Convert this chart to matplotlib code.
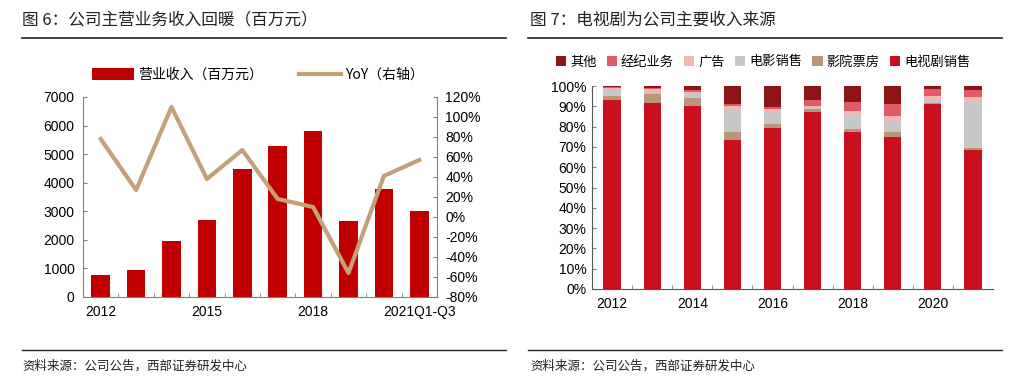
import matplotlib
matplotlib.use("Agg")
import matplotlib.pyplot as plt
import numpy as np
from matplotlib.patches import Patch
from matplotlib.lines import Line2D
from matplotlib.ticker import FuncFormatter, FixedLocator

plt.rcParams['font.family'] = ['Liberation Sans', 'Noto Sans CJK SC', 'DejaVu Sans']
CJK = ['Noto Sans CJK SC', 'DejaVu Sans']

# ---------- data: left chart ----------
years_left = ['2012', '2013', '2014', '2015', '2016', '2017', '2018', '2019', '2020', '2021Q1-Q3']
revenue = [760, 960, 1950, 2710, 4470, 5270, 5800, 2670, 3780, 3000]
yoy = [78, 27, 110, 38, 67, 18, 10, -56, 41, 57]

# ---------- data: right chart ----------
years_right = ['2012', '2013', '2014', '2015', '2016', '2017', '2018', '2019', '2020', '2021']
tv_sales = [93.0, 91.6, 90.0, 73.2, 79.3, 87.3, 77.3, 74.7, 91.0, 68.5]
cinema_box = [2.0, 4.4, 3.9, 4.0, 2.0, 1.4, 1.4, 2.8, 0.5, 1.0]
film_sales = [2.8, 0.6, 2.1, 11.5, 6.0, 1.1, 6.7, 5.4, 1.6, 23.1]
advert = [1.2, 2.0, 1.0, 1.6, 1.5, 0.5, 2.3, 2.3, 2.0, 2.1]
agency = [0.3, 0.3, 1.0, 0.8, 0.7, 2.8, 4.6, 5.8, 3.4, 3.3]
other = [0.7, 1.1, 2.0, 8.9, 10.5, 6.9, 7.7, 9.0, 1.5, 2.0]

fig = plt.figure(figsize=(10.24, 3.82), dpi=100)

# ---- titles & rules ----
fig.text(22/1024, 1-20/382, '图 6：公司主营业务收入回暖（百万元）', family=CJK, fontsize=12,
         va='center', ha='left', color='#222222')
fig.text(530/1024, 1-20/382, '图 7：电视剧为公司主要收入来源', family=CJK, fontsize=12,
         va='center', ha='left', color='#222222')
for x0, x1 in [(22, 506), (528, 1002)]:
    fig.add_artist(Line2D([x0/1024, x1/1024], [1-38/382]*2, color='#222222', lw=1.2))
    fig.add_artist(Line2D([x0/1024, x1/1024], [1-350/382]*2, color='#222222', lw=1.0))
fig.text(22/1024, 1-366/382, '资料来源：公司公告，西部证券研发中心', family=CJK, fontsize=9,
         va='center', ha='left', color='#222222')
fig.text(530/1024, 1-366/382, '资料来源：公司公告，西部证券研发中心', family=CJK, fontsize=9,
         va='center', ha='left', color='#222222')

spine_c = '#7f7f7f'

# ---------- left chart ----------
ax = fig.add_axes([83/1024, 1-297/382, 354/1024, 200/382])
x = np.arange(len(years_left))
ax.bar(x, revenue, width=0.52, color='#C00000', zorder=2)
ax.set_xlim(-0.5, len(years_left)-0.5)
ax.set_ylim(0, 7000)
ax.set_yticks(np.arange(0, 7001, 1000))
ax.set_xticks(x[::3])
ax.set_xticklabels([years_left[i] for i in range(0, len(years_left), 3)])
ax.xaxis.set_minor_locator(FixedLocator(np.arange(0.5, len(years_left)-0.5, 1)))
ax.tick_params(axis='x', which='major', length=0, labelsize=10, pad=6)
ax.tick_params(axis='x', which='minor', length=3, direction='in', color=spine_c)
ax.tick_params(axis='y', direction='in', length=3, labelsize=10, color=spine_c, pad=6)
for s in ['top', 'right']:
    ax.spines[s].set_visible(False)
for s in ['left', 'bottom']:
    ax.spines[s].set_color(spine_c)

ax2 = ax.twinx()
ax2.plot(x, yoy, color='#C4A078', lw=3, zorder=3)
ax2.set_ylim(-80, 120)
ax2.set_yticks(np.arange(-80, 121, 20))
ax2.yaxis.set_major_formatter(FuncFormatter(lambda v, p: f'{int(v)}%'))
ax2.tick_params(axis='y', direction='in', length=3, labelsize=10, color=spine_c, pad=6)
for s in ['top', 'left', 'bottom']:
    ax2.spines[s].set_visible(False)
ax2.spines['right'].set_color(spine_c)

handles = [Patch(facecolor='#C00000', edgecolor='none'),
           Line2D([0], [0], color='#C4A078', lw=3)]
fig.legend(handles, ['营业收入（百万元）', 'YoY（右轴）'],
           loc='center', bbox_to_anchor=(258/1024, 1-75/382), ncol=2, frameon=False,
           prop={'family': CJK, 'size': 10}, handlelength=3.0, handleheight=0.9,
           columnspacing=2.6, handletextpad=0.3)

# ---------- right chart ----------
bx = fig.add_axes([592/1024, 1-289/382, 401/1024, 203/382])
xr = np.arange(len(years_right))
series = [
    ('电视剧销售', tv_sales, '#C8101E'),
    ('影院票房', cinema_box, '#B8967A'),
    ('电影销售', film_sales, '#C8C8C8'),
    ('广告', advert, '#F2B8B2'),
    ('经纪业务', agency, '#E05A6A'),
    ('其他', other, '#8E1515'),
]
bottom = np.zeros(len(years_right))
for name, vals, col in series:
    vals = np.array(vals)
    bx.bar(xr, vals, bottom=bottom, width=0.43, color=col, zorder=2)
    bottom += vals
bx.set_xlim(-0.5, len(years_right)-0.5)
bx.set_ylim(0, 100)
bx.set_yticks(np.arange(0, 101, 10))
bx.yaxis.set_major_formatter(FuncFormatter(lambda v, p: f'{int(v)}%'))
bx.set_xticks(xr[::2])
bx.set_xticklabels([years_right[i] for i in range(0, len(years_right), 2)])
bx.xaxis.set_minor_locator(FixedLocator(np.arange(0.5, len(years_right)-0.5, 1)))
bx.tick_params(axis='x', which='major', length=0, labelsize=10, pad=6)
bx.tick_params(axis='x', which='minor', length=3, direction='in', color=spine_c)
bx.tick_params(axis='y', direction='in', length=3, labelsize=10, color=spine_c, pad=4)
for s in ['top', 'right']:
    bx.spines[s].set_visible(False)
for s in ['left', 'bottom']:
    bx.spines[s].set_color('#555555')

order = ['其他', '经纪业务', '广告', '电影销售', '影院票房', '电视剧销售']
colmap = {n: c for n, _, c in series}
lh = [Patch(facecolor=colmap[n], edgecolor='none') for n in order]
fig.legend(lh, order, loc='center', bbox_to_anchor=(763/1024, 1-62/382), ncol=6, frameon=False,
           prop={'family': CJK, 'size': 9.5}, handlelength=0.8, handleheight=0.8,
           columnspacing=0.75, handletextpad=0.3)

fig.savefig('out.png', dpi=100)
